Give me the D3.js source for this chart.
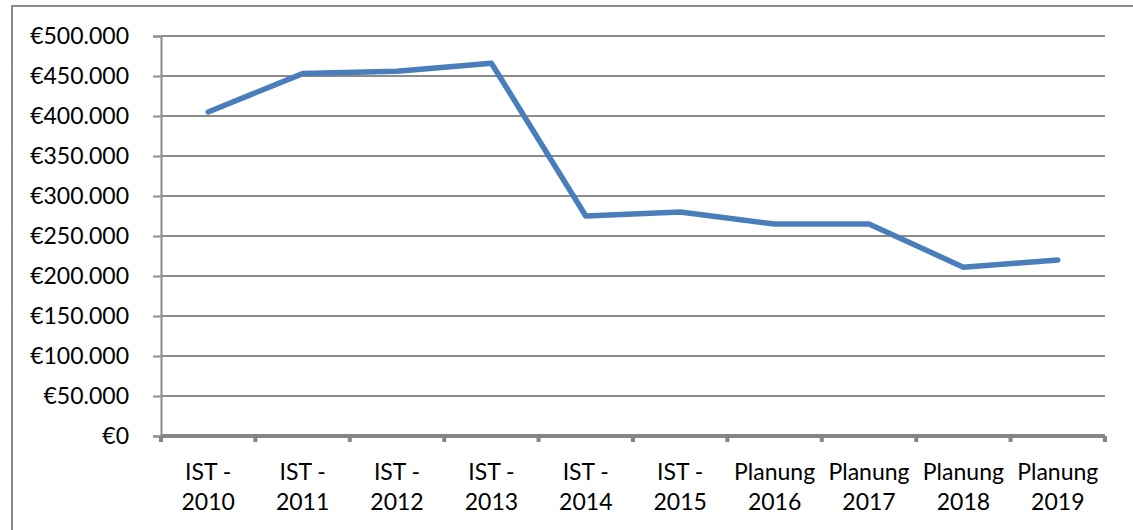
<!DOCTYPE html>
<html>
<head>
<meta charset="utf-8">
<script src="https://cdn.jsdelivr.net/npm/d3@7"></script>
<style>
  body { margin: 0; background: #fff; }
  svg text { font-family: Lato, "Open Sans", sans-serif; fill: #000; }
</style>
</head>
<body>
<div id="chart"></div>
<script>
// data
const categories = ['IST - 2010', 'IST - 2011', 'IST - 2012', 'IST - 2013', 'IST - 2014',
  'IST - 2015', 'Planung 2016', 'Planung 2017', 'Planung 2018', 'Planung 2019'];
const values = [405000, 453000, 456000, 466000, 275000, 280000, 265000, 265000, 211000, 220000];
const yTicks = [0, 50000, 100000, 150000, 200000, 250000, 300000, 350000, 400000, 450000, 500000];

const W = 1133, H = 530;
const margin = {top: 36, right: 28, bottom: 94, left: 161};
const width = W - margin.left - margin.right;
const height = H - margin.top - margin.bottom;

const svg = d3.select('#chart').append('svg')
  .attr('width', W).attr('height', H);

// outer frame
svg.append('rect')
  .attr('x', 12).attr('y', 6)
  .attr('width', W + 20).attr('height', H + 20)
  .attr('fill', 'none').attr('stroke', '#8a8a8a').attr('stroke-width', 2);

const g = svg.append('g').attr('transform', `translate(${margin.left},${margin.top})`);

const x = d3.scaleBand().domain(categories).range([0, width]);
const y = d3.scaleLinear().domain([0, 500000]).range([height, 0]);

const fmt = v => '€' + d3.format(',')(v).replace(/,/g, '.');

// gridlines
g.append('g')
  .selectAll('line').data(yTicks.filter(d => d > 0)).join('line')
  .attr('x1', 0).attr('x2', width)
  .attr('y1', d => y(d)).attr('y2', d => y(d))
  .attr('stroke', '#8c8c8c').attr('stroke-width', 2);

// y axis
const yAxis = g.append('g')
  .call(d3.axisLeft(y).tickValues(yTicks).tickFormat(fmt).tickSize(8).tickPadding(24));
yAxis.select('.domain').attr('stroke', '#8c8c8c').attr('stroke-width', 2);
yAxis.selectAll('.tick line').attr('stroke', '#8c8c8c').attr('stroke-width', 2);
yAxis.selectAll('.tick text').attr('font-size', 23).attr('font-family', 'Lato, sans-serif');

// x axis
const xAxis = g.append('g').attr('transform', `translate(0,${height})`);
xAxis.append('line')
  .attr('x1', 0).attr('x2', width).attr('y1', 0).attr('y2', 0)
  .attr('stroke', '#868686').attr('stroke-width', 4);
const bounds = categories.map(c => x(c)).concat([width]);
xAxis.selectAll('.xt').data(bounds).join('line')
  .attr('class', 'xt')
  .attr('x1', d => d).attr('x2', d => d)
  .attr('y1', 0).attr('y2', 6)
  .attr('stroke', '#868686').attr('stroke-width', 4);

const lab = xAxis.selectAll('.xl').data(categories).join('text')
  .attr('class', 'xl')
  .attr('text-anchor', 'middle')
  .attr('font-size', 23)
  .attr('transform', d => `translate(${x(d) + x.bandwidth() / 2},0)`);
lab.append('tspan').attr('x', 0).attr('y', 44).text(d => d.split(' ')[0] + (d.startsWith('IST') ? ' -' : ''));
lab.append('tspan').attr('x', 0).attr('y', 74).text(d => d.split(' ').pop());

// line
const line = d3.line()
  .x((d, i) => x(categories[i]) + x.bandwidth() / 2)
  .y(d => y(d));
g.append('path')
  .datum(values)
  .attr('d', line)
  .attr('fill', 'none')
  .attr('stroke', '#4a7ebb')
  .attr('stroke-width', 5.5)
  .attr('stroke-linejoin', 'round')
  .attr('stroke-linecap', 'round');
</script>
</body>
</html>
